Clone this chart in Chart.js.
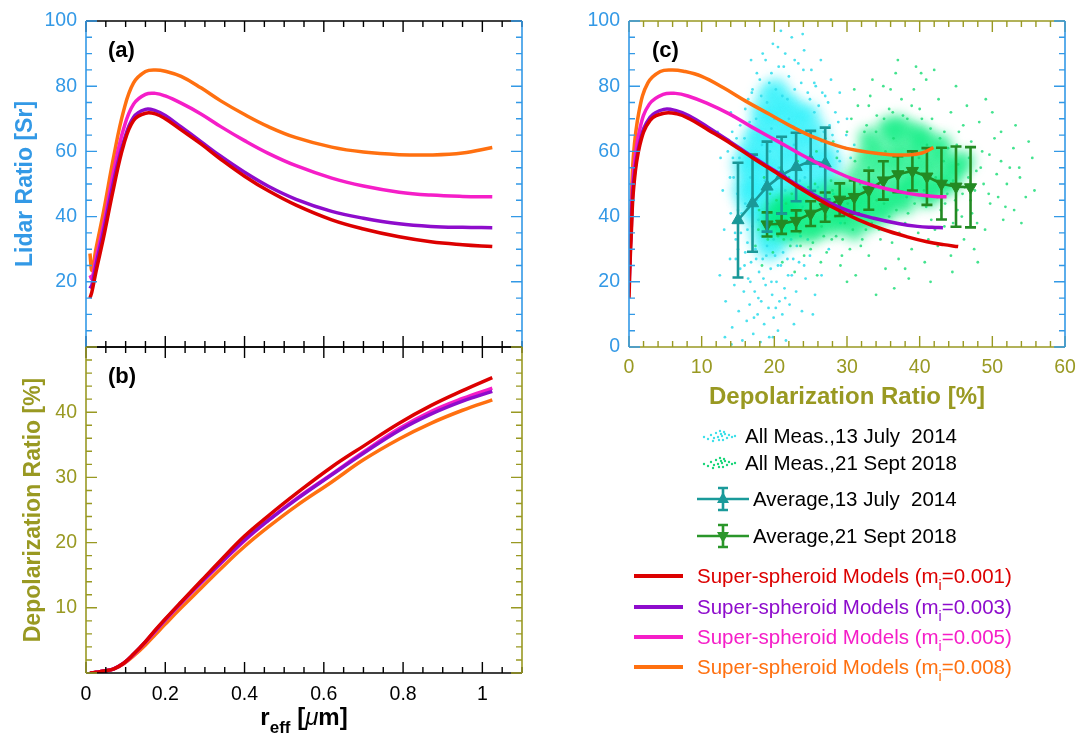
<!DOCTYPE html>
<html lang="en">
<head>
  <meta charset="UTF-8" />
  <title>Super-spheroid models: lidar ratio vs depolarization</title>
  <script src="https://cdn.jsdelivr.net/npm/chart.js@4"></script>
  <style>
    body { margin: 0; background: #fff; font-family: "Liberation Sans", Arial, sans-serif; }
    #wrap { position: relative; width: 1089px; height: 736px; overflow: hidden; }
    #wrap canvas { position: absolute; left: 0; top: 0; }
    .txt { position: absolute; white-space: pre; color: #000; }
    .panel { font-weight: bold; font-size: 22px; line-height: 26px; }
    .lg { font-size: 20.5px; line-height: 24px; }
    .lg sub { font-size: 14px; vertical-align: -7px; line-height: 0; }
    .ln { position: absolute; height: 4px; }
    .glyph { position: absolute; }
  </style>
</head>
<body>
<div id="wrap">
  <canvas id="chartA" width="1089" height="736"></canvas>
  <canvas id="chartB" width="1089" height="736"></canvas>
  <canvas id="chartC" width="1089" height="736"></canvas>

  <div class="txt panel" style="left:108px; top:37px;">(a)</div>
  <div class="txt panel" style="left:108px; top:363px;">(b)</div>
  <div class="txt panel" style="left:652px; top:37px;">(c)</div>

  <div class="txt" style="left:0; width:608px; top:703px; text-align:center; font-weight:bold; font-size:24px; line-height:28px;">r<sub style="font-size:17px; vertical-align:-8px; line-height:0;">eff</sub> [<span style="font-style:italic; font-weight:normal;">μ</span>m]</div>

  <!-- legend -->
  <svg class="glyph" style="left:701px; top:428px;" width="36" height="16" id="gCyan"></svg>
  <div class="txt lg" style="left:745px; top:424px;">All Meas.,13 July  2014</div>
  <svg class="glyph" style="left:701px; top:455px;" width="36" height="16" id="gGreen"></svg>
  <div class="txt lg" style="left:745px; top:451px;">All Meas.,21 Sept 2018</div>

  <svg class="glyph" style="left:697px; top:486px;" width="52" height="26">
    <line x1="0" y1="13" x2="52" y2="13" stroke="#1a9a9a" stroke-width="2.6"/>
    <path d="M26 2 V24 M21 2 H31 M21 24 H31" stroke="#1a9a9a" stroke-width="2.6" fill="none"/>
    <path d="M26 6 L32 17 L20 17 Z" fill="#1a9a9a"/>
  </svg>
  <div class="txt lg" style="left:753px; top:487px;">Average,13 July  2014</div>
  <svg class="glyph" style="left:697px; top:523px;" width="52" height="26">
    <line x1="0" y1="13" x2="52" y2="13" stroke="#2a962a" stroke-width="2.6"/>
    <path d="M26 2 V24 M21 2 H31 M21 24 H31" stroke="#2a962a" stroke-width="2.6" fill="none"/>
    <path d="M20 9 L32 9 L26 20 Z" fill="#2a962a"/>
  </svg>
  <div class="txt lg" style="left:753px; top:524px;">Average,21 Sept 2018</div>

  <div class="ln" style="left:634px; width:49px; top:574px; background:#dc0000;"></div>
  <div class="txt lg" style="left:697px; top:564px; color:#dc0000;">Super-spheroid Models (m<sub>i</sub>=0.001)</div>
  <div class="ln" style="left:634px; width:49px; top:605px; background:#8e0ccc;"></div>
  <div class="txt lg" style="left:697px; top:595px; color:#8e0ccc;">Super-spheroid Models (m<sub>i</sub>=0.003)</div>
  <div class="ln" style="left:634px; width:49px; top:635px; background:#f51ec8;"></div>
  <div class="txt lg" style="left:697px; top:625px; color:#f51ec8;">Super-spheroid Models (m<sub>i</sub>=0.005)</div>
  <div class="ln" style="left:634px; width:49px; top:665px; background:#ff7010;"></div>
  <div class="txt lg" style="left:697px; top:655px; color:#ff7010;">Super-spheroid Models (m<sub>i</sub>=0.008)</div>
</div>

<script>
  // ---- data ----
  // effective radius [um] used for all model curves
  const rEff = [0.01, 0.015, 0.025, 0.045, 0.07, 0.095, 0.12, 0.15, 0.175, 0.2, 0.24, 0.29, 0.34, 0.4, 0.46, 0.53, 0.62, 0.7, 0.79, 0.87, 0.95, 1.025];

  // lidar ratio [sr], panel (a)
  const lrRed     = [15, 17, 23, 34, 49, 62, 69.5, 71.7, 71.5, 70, 66.6, 62.3, 57.6, 52.4, 47.9, 43.5, 39, 36.2, 33.8, 32.3, 31.4, 30.8];
  const lrPurple  = [18, 19, 25, 36, 51, 63, 70.5, 72.9, 72.5, 71, 67.5, 63, 58.5, 53.6, 49.3, 45.3, 41.6, 39.5, 37.8, 37, 36.7, 36.6];
  const lrMagenta = [22, 21, 27, 38, 54, 67, 74.5, 77.5, 77.8, 77, 74.8, 71.5, 67.6, 63.3, 59.4, 55.6, 51.8, 49.4, 47.5, 46.6, 46.2, 46.1];
  const lrOrange  = [28.7, 23.5, 30, 42, 58.5, 72.5, 81, 84.5, 85, 84.6, 83, 79.5, 75.5, 71.3, 67.6, 64.2, 61.3, 59.8, 59, 58.9, 59.5, 61.2];

  // depolarization ratio [%], panel (b)
  const dpRed     = [0, 0.03, 0.1, 0.3, 0.65, 1.5, 2.9, 4.8, 6.6, 8.3, 10.9, 14.1, 17.3, 21, 24.1, 27.5, 31.6, 34.8, 38.3, 41.0, 43.3, 45.3];
  const dpPurple  = [0, 0.03, 0.1, 0.3, 0.65, 1.5, 2.9, 4.8, 6.5, 8.2, 10.8, 13.9, 16.9, 20.4, 23.4, 26.6, 30.4, 33.7, 37.2, 39.7, 41.7, 43.2];
  const dpMagenta = [0, 0.03, 0.1, 0.3, 0.65, 1.5, 2.8, 4.7, 6.4, 8.1, 10.7, 13.8, 16.8, 20.3, 23.4, 26.7, 30.5, 33.9, 37.5, 40.1, 42.1, 43.7];
  const dpOrange  = [0, 0.03, 0.1, 0.3, 0.6, 1.4, 2.6, 4.3, 5.9, 7.5, 10.0, 13.0, 16.0, 19.4, 22.4, 25.6, 29.3, 32.7, 35.9, 38.3, 40.3, 41.9];

  // averages with error bars, panel (c)
  const avgJulyX   = [15, 17, 19, 21, 23, 25, 27];
  const avgJulyY   = [38.9, 44.1, 49.2, 52.7, 55.2, 57.1, 56.3];
  const avgJulyErr = [17.6, 14.9, 13.8, 11.8, 10.5, 9.2, 11];

  const avgSeptX   = [19, 21, 23, 25, 27, 29, 31, 33, 35, 37, 39, 41, 43, 45, 47];
  const avgSeptY   = [37.6, 37.8, 38.7, 40.9, 42.9, 45.2, 46.0, 48.1, 51.1, 53.0, 54.0, 52.3, 50.1, 49.2, 49.0];
  const avgSeptErr = [3.7, 3.1, 3.2, 3.8, 4.5, 5.0, 5.1, 6.0, 5.9, 5.5, 6.0, 8.7, 11, 12.3, 12.3];

  // all measurements, 13 July 2014: dense centre of the cloud ...
  const julyCoreX = [15.8, 15.8, 16.5, 16.5, 16.5, 17.3, 17.3, 17.3, 17.3,
    18.2, 18.2, 18.2, 18.2, 18.2, 18.2, 19.2, 19.2, 19.2, 19.2, 19.2, 19.2, 19.2,
    20.3, 20.3, 20.3, 20.3, 20.3, 20.3, 20.3, 21.4, 21.4, 21.4, 21.4, 21.4, 21.4,
    22.5, 22.5, 22.5, 22.5, 22.5, 23.6, 23.6, 23.6, 23.6, 24.7, 24.7, 24.7, 24.7,
    25.8, 25.8, 25.8, 26.9, 26.9, 27.8];
  const julyCoreY = [48, 56, 44, 52, 60, 40, 48, 56, 64,
    34, 42, 50, 58, 66, 72, 30, 38, 46, 54, 62, 70, 77,
    32, 40, 48, 56, 64, 72, 79, 36, 44, 52, 60, 68, 75,
    42, 50, 58, 66, 73, 46, 54, 62, 70, 48, 56, 64, 71,
    50, 58, 66, 52, 60, 56];
  // ... and scattered single measurements
  const julyDotX = [13.3, 13.9, 14.2, 14.5, 14.7, 15.1, 15.3, 15.6, 15.8, 16.0,
    16.2, 16.4, 16.6, 16.8, 17.1, 17.3, 17.4, 17.7, 17.9, 18.1,
    18.2, 18.4, 18.6, 18.8, 19.0, 19.2, 19.3, 19.5, 19.7, 19.9,
    20.1, 20.3, 20.5, 20.7, 20.9, 21.1, 21.4, 21.6, 21.8, 22.1,
    22.4, 22.7, 23.0, 23.4, 23.8, 24.3, 24.9, 25.6, 14.0, 13.1,
    14.4, 14.9, 15.2, 15.5, 15.9, 16.3, 16.6, 17.0, 17.4, 17.8,
    18.3, 18.7, 19.1, 19.6, 20.2, 20.6, 21.0, 21.5, 22.0, 22.5,
    23.0, 23.5, 24.0, 24.5, 25.0, 25.5, 26.0, 26.5, 27.0, 27.6,
    28.1, 28.7, 29.3, 29.9, 30.5, 13.6, 12.9, 14.2, 28.4, 27.2,
    17.0, 17.6, 18.2, 18.8, 19.3, 19.8, 20.2, 20.6, 21.1, 21.5,
    22.0, 22.4, 22.8, 23.3, 23.7, 24.1, 24.6, 25.1, 25.7, 26.4,
    27.0, 27.8, 16.4, 19.0, 21.8, 24.9, 29.0, 23.9, 20.9, 26.1,
    15.0, 15.4, 15.9, 16.3, 16.7, 17.0, 17.5, 17.8, 18.3, 18.5,
    18.9, 19.2, 19.6, 19.9, 20.2, 20.5, 20.8, 21.2, 21.5, 21.9,
    22.3, 22.6, 23.1, 23.6, 24.1, 24.6, 16.0, 14.7, 17.2, 19.8,
    14.3, 14.8, 15.3, 15.0, 14.6, 16.0, 16.9, 17.5, 18.0, 27.4,
    28.0, 28.5, 29.0, 29.5, 28.8, 27.9, 26.6, 25.5, 24.0, 22.8,
    21.3, 19.6, 18.4, 20.0, 19.4, 22.7, 24.2, 26.2, 21.1, 17.6,
    16.7, 23.9, 25.3, 26.8, 13.9, 12.6, 30.3, 31.0, 14.0, 30.0,
    13.2, 12.5, 14.1, 25.3, 26.5, 27.5, 29.1, 12.2, 16.8, 20.5];
  const julyDotY = [14, 27, 6, 19, 33, 11, 24, 2, 17, 29,
    8, 21, 13, 26, 4, 17, 30, 10, 23, 1.5,
    14, 27, 7, 19, 31, 12, 3, 24, 16, 9,
    28, 20, 5, 14, 25, 10, 18, 2, 27, 13,
    22, 7, 17, 26, 11, 21, 28, 16, 41, 36,
    52, 47, 58, 41, 64, 36, 69, 47, 58, 39,
    62, 51, 44, 67, 37, 55, 62, 48, 70, 41,
    60, 51, 66, 45, 58, 72, 49, 63, 54, 68,
    47, 60, 53, 65, 58, 60, 48, 66, 72, 40,
    79, 84, 77, 88, 81, 93, 79, 86, 77, 90,
    83, 95, 79, 87, 81, 91, 78, 85, 80, 88,
    77, 82, 76, 75, 76, 76, 78, 96, 97, 74,
    30, 35, 25, 32, 20, 37, 27, 15, 34, 21,
    28, 36, 20, 33, 12, 25, 35, 29, 15, 22,
    33, 27, 31, 34, 25, 33, 44, 27, 9, 3,
    58, 64, 68, 42, 35, 73, 78, 70, 82, 75,
    65, 50, 57, 46, 69, 44, 78, 81, 85, 88,
    86, 84, 90, 70, 60, 62, 52, 56, 45, 45,
    52, 43, 47, 66, 52, 58, 52, 62, 72, 70,
    3, 22, 0.8, 10, 22, 30, 38, 66, 88, 92];

  // all measurements, 21 Sept 2018: dense centre ...
  const septCoreX = [19.5, 20.5, 21.5, 22.5, 23.5, 24.5, 25.5, 26.5, 27.5, 28.5,
    29.5, 21.5, 24, 27, 25, 28, 30, 32, 34, 36,
    30.5, 31.5, 32, 32.5, 33.5, 34, 34, 35, 35.5, 36,
    36.5, 37, 37.5, 38, 38.5, 39, 39.5, 40, 40.5, 41,
    41.5, 42.5, 43, 44, 45, 38, 41, 33, 35.5,
    20, 22, 23, 26, 29, 31, 33, 29, 31, 33,
    35, 37, 39, 42, 44, 46, 43, 40, 37];
  const septCoreY = [37, 39, 36, 40, 38, 42, 39, 43, 41, 45,
    43, 43, 46, 47, 35, 37, 39, 41, 43, 44,
    48, 53, 45, 58, 50, 55, 61, 47, 58, 52,
    64, 56, 60, 49, 66, 54, 61, 57, 50, 63,
    55, 59, 51, 56, 54, 44, 46, 64, 67,
    42, 44, 35, 37, 40, 44, 47, 49, 36, 39,
    41, 47, 50, 48, 50, 57, 62, 65, 68];
  // ... and scattered single measurements
  const septDotX = [17.4, 17.9, 18.3, 18.9, 19.4, 19.8, 20.5, 21.1, 21.6, 22.2,
    22.8, 23.5, 24.1, 24.7, 25.3, 25.9, 26.5, 27.2, 27.8, 28.5,
    29.1, 29.7, 18.6, 20.9, 23.2, 25.8, 28.1, 30.4, 31.2, 32.1,
    30.6, 31.5, 32.4, 33.2, 34.1, 35.0, 35.8, 36.7, 37.5, 38.3,
    39.2, 40.0, 40.9, 41.7, 42.6, 43.4, 44.3, 45.1, 46.0, 46.8,
    33.0, 34.4, 35.3, 36.2, 37.1, 38.0, 38.9, 39.8, 40.7, 41.6,
    42.5, 43.4, 44.3, 45.2, 46.1, 47.0, 47.9, 48.8, 49.7, 50.6,
    36.5, 38.5, 41.5, 44.5, 34.0, 39.5, 37.0, 42.0, 33.5, 31.0,
    44.6, 45.3, 46.2, 47.1, 47.8, 48.6, 49.5, 50.3, 51.2, 52.0,
    52.9, 53.7, 54.6, 55.5, 46.5, 48.2, 50.0, 51.8, 53.2, 55.0,
    43.8, 45.8, 49.0, 51.5, 47.5, 54.0,
    21.5, 23.8, 26.1, 28.4, 30.7, 33.0, 35.3, 37.6, 39.9, 42.2,
    31.8, 34.1, 36.4, 38.7, 41.0, 43.3,
    25.0, 26.4, 27.9, 29.3, 30.8, 31.9, 33.4, 34.6, 35.8, 37.2,
    38.4, 39.7, 40.9, 42.1, 43.5, 44.6, 45.9, 47.2, 48.4, 49.6,
    27.1, 28.6, 29.8, 31.1, 32.7, 34.0, 35.1, 36.3, 37.7, 38.9,
    40.3, 41.5, 42.8, 43.9, 45.4, 46.7, 47.6, 44.9, 42.9, 41.2,
    19.1, 20.3, 21.3, 22.4, 23.6, 24.4, 25.6, 26.8, 28.0, 29.4,
    30.1, 31.4, 32.6, 33.9, 35.1, 36.8, 38.2, 39.3, 40.6, 42.4,
    17.8, 18.5, 50.8, 52.4, 53.8, 55.8, 51.2, 49.1, 45.0, 40.2,
    36.0, 33.0, 30.0, 27.0, 24.5, 22.0, 53.0, 48.0, 38.0, 30.0];
  const septDotY = [31, 42, 25, 37, 47, 29, 34, 26, 44, 31,
    23, 35, 28, 49, 32, 22, 37, 29, 51, 34,
    25, 38, 52, 55, 57, 60, 63, 30, 22, 33,
    70, 74, 66, 77, 71, 80, 73, 84, 76, 70,
    79, 73, 82, 70, 76, 66, 72, 62, 68, 58,
    28, 36, 24, 32, 27, 38, 30, 35, 26, 39,
    31, 37, 28, 42, 33, 45, 38, 50, 44, 53,
    18, 21, 20, 23, 16, 86, 88, 85, 82, 79,
    51, 56, 49, 63, 54, 60, 47, 64, 57, 50,
    61, 55, 46, 58, 74, 69, 72, 43, 68, 63,
    47, 40, 36, 39, 30, 38,
    39, 42, 45, 40, 47, 55, 60, 53, 58, 52,
    50, 45, 64, 48, 62, 57,
    30, 26, 33, 28, 36, 31, 38, 33, 40, 35,
    41, 37, 43, 36, 44, 38, 47, 41, 55, 59,
    55, 58, 61, 57, 68, 66, 70, 72, 71, 74,
    70, 67, 64, 61, 66, 52, 48, 45, 42, 33,
    33, 45, 33, 47, 31, 37, 50, 34, 48, 33,
    44, 39, 36, 49, 44, 42, 46, 44, 48, 46,
    36, 48, 46, 55, 52, 48, 66, 76, 80, 84,
    79, 74, 66, 64, 58, 52, 42, 26, 24, 20];

  // ---- styling ----
  const W = 1089, H = 736;
  const FONT = '"Liberation Sans", Arial, sans-serif';
  const BLUE = '#3399e6';
  const OLIVE = '#999922';
  const RED = '#dc0000', PURPLE = '#8e0ccc', MAGENTA = '#f51ec8', ORANGE = '#ff7010';
  const TEAL = '#1a9898', DKGREEN = '#238a23';

  Chart.defaults.font.family = FONT;
  Chart.defaults.color = '#000';

  const pts = (xs, ys) => xs.map((x, i) => ({ x, y: ys[i] }));

  // box with inward tick marks on all four sides (MATLAB look)
  const framePlugin = {
    id: 'frame',
    afterDraw(chart, args, opts) {
      const { ctx, chartArea: a, scales } = chart;
      ctx.save();
      ['top', 'bottom', 'left', 'right'].forEach(side => {
        const s = opts[side];
        if (!s) return;
        const horiz = side === 'top' || side === 'bottom';
        const scale = horiz ? scales.x : scales.y;
        ctx.strokeStyle = s.color;
        ctx.lineWidth = 1.6;
        ctx.beginPath();
        if (side === 'top') { ctx.moveTo(a.left, a.top); ctx.lineTo(a.right, a.top); }
        if (side === 'bottom') { ctx.moveTo(a.left, a.bottom); ctx.lineTo(a.right, a.bottom); }
        if (side === 'left') { ctx.moveTo(a.left, a.top); ctx.lineTo(a.left, a.bottom); }
        if (side === 'right') { ctx.moveTo(a.right, a.top); ctx.lineTo(a.right, a.bottom); }
        ctx.stroke();

        ctx.lineWidth = 1.4;
        ctx.beginPath();
        const n = Math.round((scale.max - scale.min) / s.minor);
        for (let i = 0; i <= n; i++) {
          const v = scale.min + i * s.minor;
          const q = v / s.major;
          const len = Math.abs(q - Math.round(q)) < 1e-6 ? 11 : 6;
          const p = scale.getPixelForValue(v);
          if (side === 'top') { ctx.moveTo(p, a.top); ctx.lineTo(p, a.top + len); }
          if (side === 'bottom') { ctx.moveTo(p, a.bottom); ctx.lineTo(p, a.bottom - len); }
          if (side === 'left') { ctx.moveTo(a.left, p); ctx.lineTo(a.left + len, p); }
          if (side === 'right') { ctx.moveTo(a.right, p); ctx.lineTo(a.right - len, p); }
        }
        ctx.stroke();
      });
      ctx.restore();
    }
  };

  // vertical error bars drawn just under their dataset
  const errorBarPlugin = {
    id: 'errbars',
    beforeDatasetDraw(chart, args) {
      const ds = chart.data.datasets[args.index];
      if (!ds.errors) return;
      const { ctx } = chart;
      const xs = chart.scales.x, ys = chart.scales.y;
      ctx.save();
      ctx.strokeStyle = ds.borderColor;
      ctx.lineWidth = 2.6;
      ctx.beginPath();
      ds.data.forEach((p, i) => {
        const px = xs.getPixelForValue(p.x);
        const y1 = ys.getPixelForValue(p.y + ds.errors[i]);
        const y2 = ys.getPixelForValue(p.y - ds.errors[i]);
        ctx.moveTo(px, y1); ctx.lineTo(px, y2);
        ctx.moveTo(px - 5.5, y1); ctx.lineTo(px + 5.5, y1);
        ctx.moveTo(px - 5.5, y2); ctx.lineTo(px + 5.5, y2);
      });
      ctx.stroke();
      ctx.restore();
    }
  };

  // soft-focus for the dense cloud centres
  const softPlugin = {
    id: 'soft',
    beforeDatasetDraw(chart, args) {
      const ds = chart.data.datasets[args.index];
      if (!ds.blur) return;
      chart.ctx.save();
      chart.ctx.filter = `blur(${ds.blur}px)`;
    },
    afterDatasetDraw(chart, args) {
      const ds = chart.data.datasets[args.index];
      if (ds.blur) chart.ctx.restore();
    }
  };

  function curve(data, color) {
    return {
      data, borderColor: color, backgroundColor: color, borderWidth: 3.5,
      pointRadius: 0, showLine: true, fill: false, tension: 0.4
    };
  }

  const tickFont = { family: FONT, size: 19.5 };
  const titleFont = { family: FONT, size: 23, weight: 'bold' };
  const noGrid = { display: false, drawTicks: false };
  const noBorder = { display: false };

  // ---- panel (a): lidar ratio vs r_eff ----
  new Chart(document.getElementById('chartA'), {
    type: 'line',
    data: {
      datasets: [
        curve(pts(rEff, lrRed), RED),
        curve(pts(rEff, lrPurple), PURPLE),
        curve(pts(rEff, lrMagenta), MAGENTA),
        curve(pts(rEff, lrOrange), ORANGE)
      ]
    },
    options: {
      responsive: false, animation: false, devicePixelRatio: 1,
      layout: { padding: { left: 0, top: 21, right: W - 522, bottom: H - 347 } },
      plugins: {
        legend: { display: false }, tooltip: { enabled: false },
        frame: {
          top: { color: '#000', major: 0.2, minor: 0.05 },
          bottom: { color: '#000', major: 0.2, minor: 0.05 },
          left: { color: BLUE, major: 20, minor: 5 },
          right: { color: BLUE, major: 20, minor: 5 }
        }
      },
      scales: {
        x: {
          type: 'linear', min: 0, max: 1.1,
          grid: noGrid, border: noBorder, ticks: { display: false },
          afterFit: s => { s.height = 0; }
        },
        y: {
          type: 'linear', min: 0, max: 100,
          grid: noGrid, border: noBorder,
          ticks: { stepSize: 20, color: BLUE, font: tickFont, padding: 9, callback: v => v === 0 ? '' : v },
          title: { display: true, text: 'Lidar Ratio [Sr]', color: BLUE, font: titleFont, padding: { top: 12, bottom: 0 } },
          afterFit: s => { s.width = 86; }
        }
      }
    },
    plugins: [framePlugin]
  });

  // ---- panel (b): depolarization ratio vs r_eff ----
  new Chart(document.getElementById('chartB'), {
    type: 'line',
    data: {
      datasets: [
        curve(pts(rEff, dpRed), RED),
        curve(pts(rEff, dpPurple), PURPLE),
        curve(pts(rEff, dpMagenta), MAGENTA),
        curve(pts(rEff, dpOrange), ORANGE)
      ]
    },
    options: {
      responsive: false, animation: false, devicePixelRatio: 1,
      layout: { padding: { left: 0, top: 347, right: W - 522, bottom: H - 673 - 40 } },
      plugins: {
        legend: { display: false }, tooltip: { enabled: false },
        frame: {
          top: { color: '#000', major: 0.2, minor: 0.05 },
          bottom: { color: '#000', major: 0.2, minor: 0.05 },
          left: { color: OLIVE, major: 10, minor: 2 },
          right: { color: OLIVE, major: 10, minor: 2 }
        }
      },
      scales: {
        x: {
          type: 'linear', min: 0, max: 1.1,
          grid: noGrid, border: noBorder,
          ticks: {
            stepSize: 0.2, includeBounds: false, color: '#000', font: tickFont, padding: 10,
            maxRotation: 0, autoSkip: false,
            callback: v => v > 1.05 ? '' : String(Math.round(v * 10) / 10)
          },
          afterFit: s => { s.height = 40; }
        },
        y: {
          type: 'linear', min: 0, max: 50,
          grid: noGrid, border: noBorder,
          ticks: { stepSize: 10, color: OLIVE, font: tickFont, padding: 9, callback: v => (v === 0 || v === 50) ? '' : v },
          title: { display: true, text: 'Depolarization Ratio [%]', color: OLIVE, font: titleFont, padding: { top: 20, bottom: 0 } },
          afterFit: s => { s.width = 86; }
        }
      }
    },
    plugins: [framePlugin]
  });

  // ---- panel (c): lidar ratio vs depolarization ratio ----
  new Chart(document.getElementById('chartC'), {
    type: 'scatter',
    data: {
      datasets: [
        curve(pts(dpRed, lrRed), RED),
        curve(pts(dpPurple, lrPurple), PURPLE),
        curve(pts(dpMagenta, lrMagenta), MAGENTA),
        curve(pts(dpOrange, lrOrange), ORANGE),
        {
          data: pts(avgJulyX, avgJulyY), errors: avgJulyErr, showLine: true,
          borderColor: TEAL, backgroundColor: TEAL, borderWidth: 2.6,
          pointStyle: 'triangle', pointRadius: 7, pointBorderWidth: 1
        },
        {
          data: pts(avgSeptX, avgSeptY), errors: avgSeptErr, showLine: true,
          borderColor: DKGREEN, backgroundColor: DKGREEN, borderWidth: 2.6,
          pointStyle: 'triangle', pointRotation: 180, pointRadius: 7, pointBorderWidth: 1
        },
        { data: pts(septDotX, septDotY), pointRadius: 1.4, pointBorderWidth: 0, backgroundColor: 'rgba(20,220,115,0.8)' },
        { data: pts(septCoreX, septCoreY), blur: 6, pointRadius: 11, pointBorderWidth: 0, backgroundColor: 'rgba(0,238,125,0.68)' },
        { data: pts(julyDotX, julyDotY), pointRadius: 1.4, pointBorderWidth: 0, backgroundColor: 'rgba(45,220,235,0.85)' },
        { data: pts(julyCoreX, julyCoreY), blur: 6, pointRadius: 12, pointBorderWidth: 0, backgroundColor: 'rgba(30,240,250,0.6)' }
      ]
    },
    options: {
      responsive: false, animation: false, devicePixelRatio: 1,
      layout: { padding: { left: 569, top: 21, right: W - 1065, bottom: H - 347 - 66 } },
      plugins: {
        legend: { display: false }, tooltip: { enabled: false },
        frame: {
          top: { color: OLIVE, major: 10, minor: 2 },
          bottom: { color: OLIVE, major: 10, minor: 2 },
          left: { color: BLUE, major: 20, minor: 5 },
          right: { color: BLUE, major: 20, minor: 5 }
        }
      },
      scales: {
        x: {
          type: 'linear', min: 0, max: 60,
          grid: noGrid, border: noBorder,
          ticks: { stepSize: 10, color: OLIVE, font: tickFont, padding: 9, maxRotation: 0, autoSkip: false },
          title: { display: true, text: 'Depolarization Ratio [%]', color: OLIVE, font: { family: FONT, size: 24, weight: 'bold' }, padding: { top: 0, bottom: 1 } },
          afterFit: s => { s.height = 66; }
        },
        y: {
          type: 'linear', min: 0, max: 100,
          grid: noGrid, border: noBorder,
          ticks: { stepSize: 20, color: BLUE, font: tickFont, padding: 9 },
          afterFit: s => { s.width = 60; }
        }
      }
    },
    plugins: [framePlugin, errorBarPlugin, softPlugin]
  });

  // legend glyphs for the scatter clouds (a few dots like the original key)
  const glyphDotsX = [3, 7, 10, 13, 15, 17, 19, 21, 22, 24, 26, 28, 31, 34, 12, 18, 23, 20];
  const glyphDotsY = [9, 11, 7, 10, 5, 9, 3, 8, 12, 6, 10, 7, 9, 8, 13, 12, 4, 6];
  function fillGlyph(id, color) {
    const svg = document.getElementById(id);
    svg.innerHTML = glyphDotsX.map((x, i) =>
      `<circle cx="${x}" cy="${glyphDotsY[i]}" r="1.2" fill="${color}"/>`).join('');
  }
  fillGlyph('gCyan', '#3ee0ea');
  fillGlyph('gGreen', '#1ad67a');
</script>
</body>
</html>
